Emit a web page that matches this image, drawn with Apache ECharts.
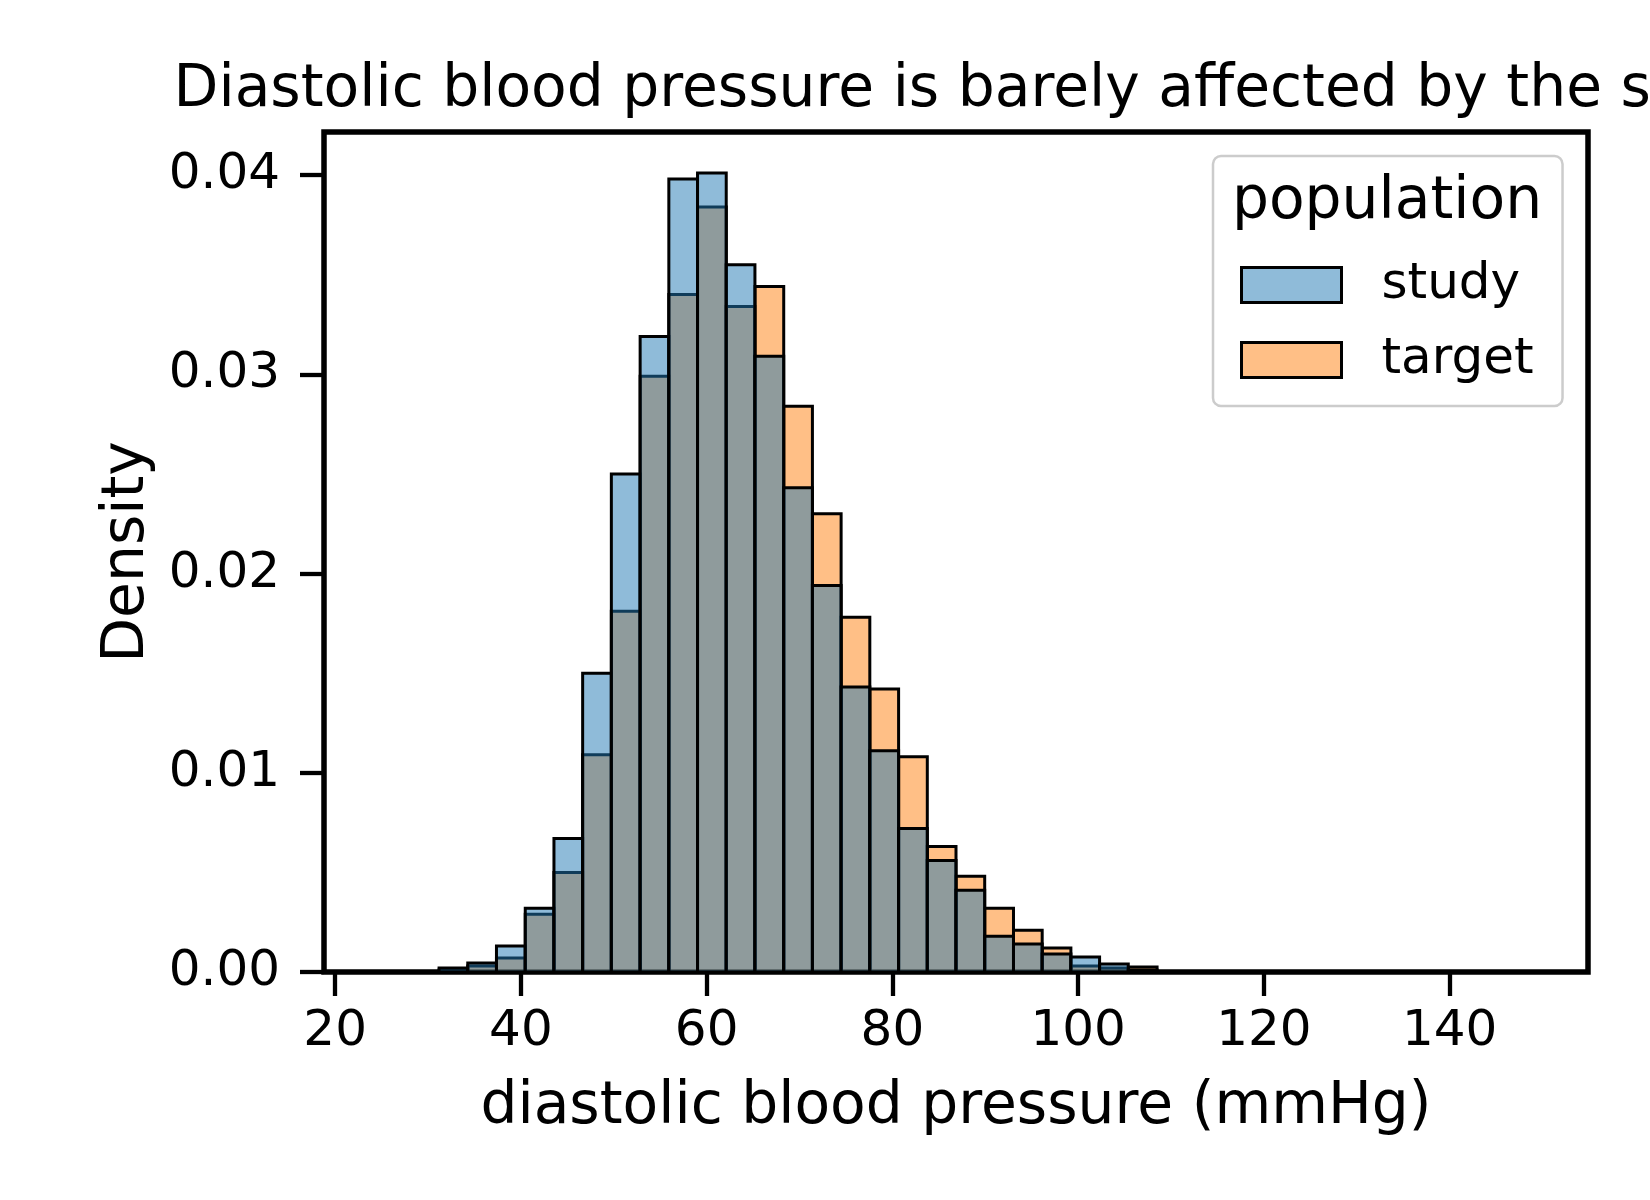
<!DOCTYPE html>
<html>
<head>
<meta charset="utf-8" />
<title>diastolic blood pressure histogram</title>
<script src="https://cdn.jsdelivr.net/npm/echarts@6/dist/echarts.min.js"></script>
<style>
  html,
  body {
    margin: 0;
    padding: 0;
    background: #fff;
  }
  #hist-chart {
    width: 1650px;
    height: 1200px;
  }
</style>
</head>
<body>
<div id="hist-chart"></div>

<script>
/* 数据 */
// 分箱边界 (mmHg)
const binEdges = [
  31.19, 34.28, 37.37, 40.47, 43.56, 46.65, 49.74, 52.84, 55.93, 59.02, 62.11, 65.2, 68.3,
  71.39, 74.48, 77.57, 80.67, 83.76, 86.85, 89.94, 93.04, 96.13, 99.22, 102.31, 105.4, 108.5
]
// study 密度
const studyDensity = [
  0.0002, 0.00045, 0.0013, 0.0032, 0.0067, 0.015, 0.025, 0.0319, 0.0398, 0.0401, 0.0355, 0.0309,
  0.0243, 0.0194, 0.0143, 0.0111, 0.0072, 0.0056, 0.0041, 0.0018, 0.0014, 0.0009, 0.00075, 0.0004,
  0.0001
]
// target 密度
const targetDensity = [
  0.0001, 0.0003, 0.0007, 0.0029, 0.005, 0.0109, 0.0181, 0.0299, 0.034, 0.0384, 0.0334, 0.0344,
  0.0284, 0.023, 0.0178, 0.0142, 0.0108, 0.0063, 0.0048, 0.0032, 0.0021, 0.0012, 0.0003, 0.0002,
  0.00025
]
const xTicks = [20, 40, 60, 80, 100, 120, 140]
const yTicks = [0, 0.01, 0.02, 0.03, 0.04]

const FONT = 'DejaVu Sans'

// 每个分箱 -> [左边界, 右边界, 密度]
const toBins = values => values.map((v, i) => [binEdges[i], binEdges[i + 1], v])

// 画直方图柱子
const histSeries = (name, values, fill) => ({
  name,
  type: 'custom',
  itemStyle: { color: fill },
  encode: { x: [0, 1], y: 2 },
  data: toBins(values),
  renderItem: (params, api) => {
    const p0 = api.coord([api.value(0), api.value(2)])
    const p1 = api.coord([api.value(1), 0])
    return {
      type: 'rect',
      shape: { x: p0[0], y: p0[1], width: p1[0] - p0[0], height: p1[1] - p0[1] },
      style: { fill, stroke: '#000', lineWidth: 3 }
    }
  }
})

const myChart = echarts.init(document.getElementById('hist-chart'))

const option = {
  animation: false,
  textStyle: { fontFamily: FONT },

  title: {
    text: 'Diastolic blood pressure is barely affected by the shift',
    left: 960,
    top: 62,
    textAlign: 'center',
    padding: 0,
    textStyle: { fontSize: 58.3, fontWeight: 'normal', color: '#000', fontFamily: FONT }
  },

  grid: {
    left: 324,
    top: 132,
    right: 62,
    bottom: 228,
    show: true,
    borderColor: '#000',
    borderWidth: 5.5,
    containLabel: false,
    outerBoundsMode: 'none'
  },

  legend: {
    orient: 'vertical',
    left: 1213,
    top: 156,
    padding: [104, 29, 21, 27],
    itemWidth: 100,
    itemHeight: 35,
    itemGap: 25,
    icon: 'rect',
    itemStyle: { borderColor: '#000', borderWidth: 3 },
    textStyle: { fontSize: 50, color: '#000', fontFamily: FONT, padding: [0, 0, 0, 35], lineHeight: 37 },
    borderColor: '#cccccc',
    borderWidth: 2.5,
    borderRadius: 8,
    backgroundColor: 'rgba(255,255,255,0.8)',
    data: ['study', 'target']
  },

  // 图例标题
  graphic: [
    {
      type: 'text',
      x: 1387,
      y: 203,
      z: 100,
      style: {
        text: 'population',
        fontSize: 58.3,
        fontFamily: FONT,
        fill: '#000',
        textAlign: 'center',
        textVerticalAlign: 'middle'
      }
    }
  ],

  xAxis: {
    type: 'value',
    min: 18.8,
    max: 154.9,
    axisLine: { show: false },
    splitLine: { show: false },
    axisTick: { show: true, length: 24, lineStyle: { width: 4.3, color: '#000' }, customValues: xTicks },
    axisLabel: { fontSize: 50, color: '#000', margin: 35, fontFamily: FONT, customValues: xTicks },
    name: 'diastolic blood pressure (mmHg)',
    nameLocation: 'middle',
    nameGap: 107,
    nameTextStyle: { fontSize: 58.3, color: '#000', fontFamily: FONT }
  },

  yAxis: {
    type: 'value',
    min: 0,
    max: 0.04216,
    axisLine: { show: false },
    splitLine: { show: false },
    axisTick: { show: true, length: 24, lineStyle: { width: 4.3, color: '#000' }, customValues: yTicks },
    axisLabel: {
      fontSize: 50,
      color: '#000',
      margin: 44,
      fontFamily: FONT,
      customValues: yTicks,
      formatter: v => v.toFixed(2)
    },
    name: 'Density',
    nameLocation: 'middle',
    nameRotate: 90,
    nameGap: 167,
    nameTextStyle: { fontSize: 58.3, color: '#000', fontFamily: FONT }
  },

  // target 先画, study 在上层
  series: [
    histSeries('target', targetDensity, 'rgba(255,127,14,0.5)'),
    histSeries('study', studyDensity, 'rgba(31,119,180,0.5)')
  ]
}

myChart.setOption(option)
</script>
</body>
</html>
